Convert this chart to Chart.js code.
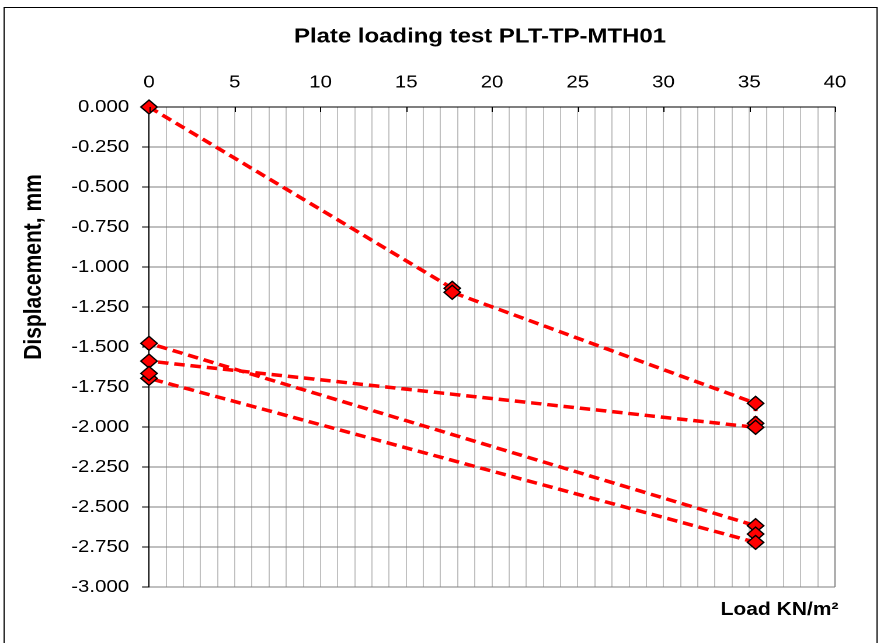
<!DOCTYPE html>
<html>
<head>
<meta charset="utf-8">
<title>Plate loading test PLT-TP-MTH01</title>
<script src="https://cdn.jsdelivr.net/npm/chart.js@4/dist/chart.umd.min.js"></script>
<style>
  html, body { margin: 0; padding: 0; background: #ffffff; overflow: hidden; }
  /* the original picture is stretched sideways, so draw narrower and stretch */
  #wrap { width: 757px; height: 643px; transform: scaleX(1.1678); transform-origin: 0 0; }
  canvas { display: block; }
</style>
</head>
<body>
<div id="wrap"><canvas id="plateChart" width="757" height="643"></canvas></div>
<script>
// Plate loading test readings, in the order they were taken
const loads = [0, 17.68, 17.68, 35.37, 35.37, 35.37, 0, 0, 35.37, 35.37, 35.37, 0, 0];
const displacements = [0, -1.133, -1.158, -1.852, -1.977, -2.002, -1.588, -1.477, -2.617, -2.669, -2.721, -1.696, -1.665];

const loadTicks = [0, 5, 10, 15, 20, 25, 30, 35, 40];
const displacementTicks = [0, -0.25, -0.5, -0.75, -1, -1.25, -1.5, -1.75, -2, -2.25, -2.5, -2.75, -3];

const chartTitle = 'Plate loading test PLT-TP-MTH01';
const xTitle = 'Load KN/m²';
const yTitle = 'Displacement, mm';

const FONT = '"Liberation Sans", Arial, sans-serif';

Chart.defaults.font.family = FONT;
Chart.defaults.color = '#000000';

const points = loads.map((load, i) => ({ x: load, y: displacements[i] }));

// frame, title and axis titles the way the spreadsheet placed them
const decorations = {
  id: 'decorations',
  beforeDraw: (chart) => {
    const { ctx } = chart;
    ctx.save();
    ctx.fillStyle = '#ffffff';
    ctx.fillRect(0, 0, chart.width, chart.height);
    ctx.strokeStyle = '#000000';
    ctx.lineWidth = 1;
    ctx.strokeRect(3.5, 7.5, 747.5, 645);
    ctx.restore();
  },
  afterDraw: (chart) => {
    const { ctx, chartArea, scales } = chart;
    ctx.save();

    // inward tick marks on the load axis
    ctx.strokeStyle = '#000000';
    ctx.lineWidth = 1;
    loadTicks.forEach((v) => {
      const px = Math.round(scales.x.getPixelForValue(v)) + 0.5;
      ctx.beginPath();
      ctx.moveTo(px, chartArea.top);
      ctx.lineTo(px, chartArea.top + 5);
      ctx.stroke();
    });

    ctx.fillStyle = '#000000';
    ctx.font = 'bold 20.5px ' + FONT;
    ctx.textAlign = 'center';
    ctx.textBaseline = 'middle';
    ctx.fillText(chartTitle, 411, 37);

    ctx.font = 'bold 18px ' + FONT;
    ctx.textAlign = 'right';
    ctx.textBaseline = 'alphabetic';
    ctx.fillText(xTitle, 718, 615);

    ctx.translate(29, 267);
    ctx.rotate(-Math.PI / 2);
    ctx.font = 'bold 21px ' + FONT;
    ctx.textAlign = 'center';
    ctx.textBaseline = 'middle';
    ctx.fillText(yTitle, 0, 0);
    ctx.restore();
  },
};

new Chart(document.getElementById('plateChart'), {
  type: 'scatter',
  data: {
    datasets: [
      {
        label: 'Displacement',
        data: points,
        showLine: true,
        borderColor: '#ff0000',
        borderWidth: 3.5,
        borderDash: [9, 5],
        tension: 0,
        pointStyle: 'rectRot',
        pointRadius: 7,
        pointBackgroundColor: '#ff0000',
        pointBorderColor: '#000000',
        pointBorderWidth: 1.3,
        clip: false,
      },
    ],
  },
  options: {
    responsive: false,
    animation: false,
    devicePixelRatio: 2,
    layout: {
      padding: { left: 0, right: 42, top: 0, bottom: 56 },
    },
    plugins: {
      legend: { display: false },
      title: { display: false },
      tooltip: { enabled: false },
    },
    scales: {
      x: {
        type: 'linear',
        position: 'top',
        min: 0,
        max: 40,
        afterFit: (scale) => {
          scale.height = 107;
        },
        ticks: {
          stepSize: 1,
          autoSkip: false,
          maxRotation: 0,
          padding: 14,
          font: { size: 17.5 },
          callback: (v) => (loadTicks.includes(v) ? String(v) : ''),
        },
        grid: {
          color: (c) => (c.tick && c.tick.value === 40 ? '#808080' : '#c0c0c0'),
          lineWidth: 1,
          drawTicks: false,
        },
        border: { color: '#000000', width: 1 },
      },
      y: {
        type: 'linear',
        position: 'left',
        min: -3,
        max: 0,
        afterFit: (scale) => {
          scale.width = 127.6;
        },
        afterBuildTicks: (scale) => {
          scale.ticks = displacementTicks.map((v) => ({ value: v }));
        },
        ticks: {
          padding: 11,
          font: { size: 17.5 },
          callback: (v) => v.toFixed(3),
        },
        grid: {
          color: '#808080',
          lineWidth: 1,
          tickLength: 6,
          tickColor: '#000000',
        },
        border: { color: '#000000', width: 1 },
      },
    },
  },
  plugins: [decorations],
});
</script>
</body>
</html>
